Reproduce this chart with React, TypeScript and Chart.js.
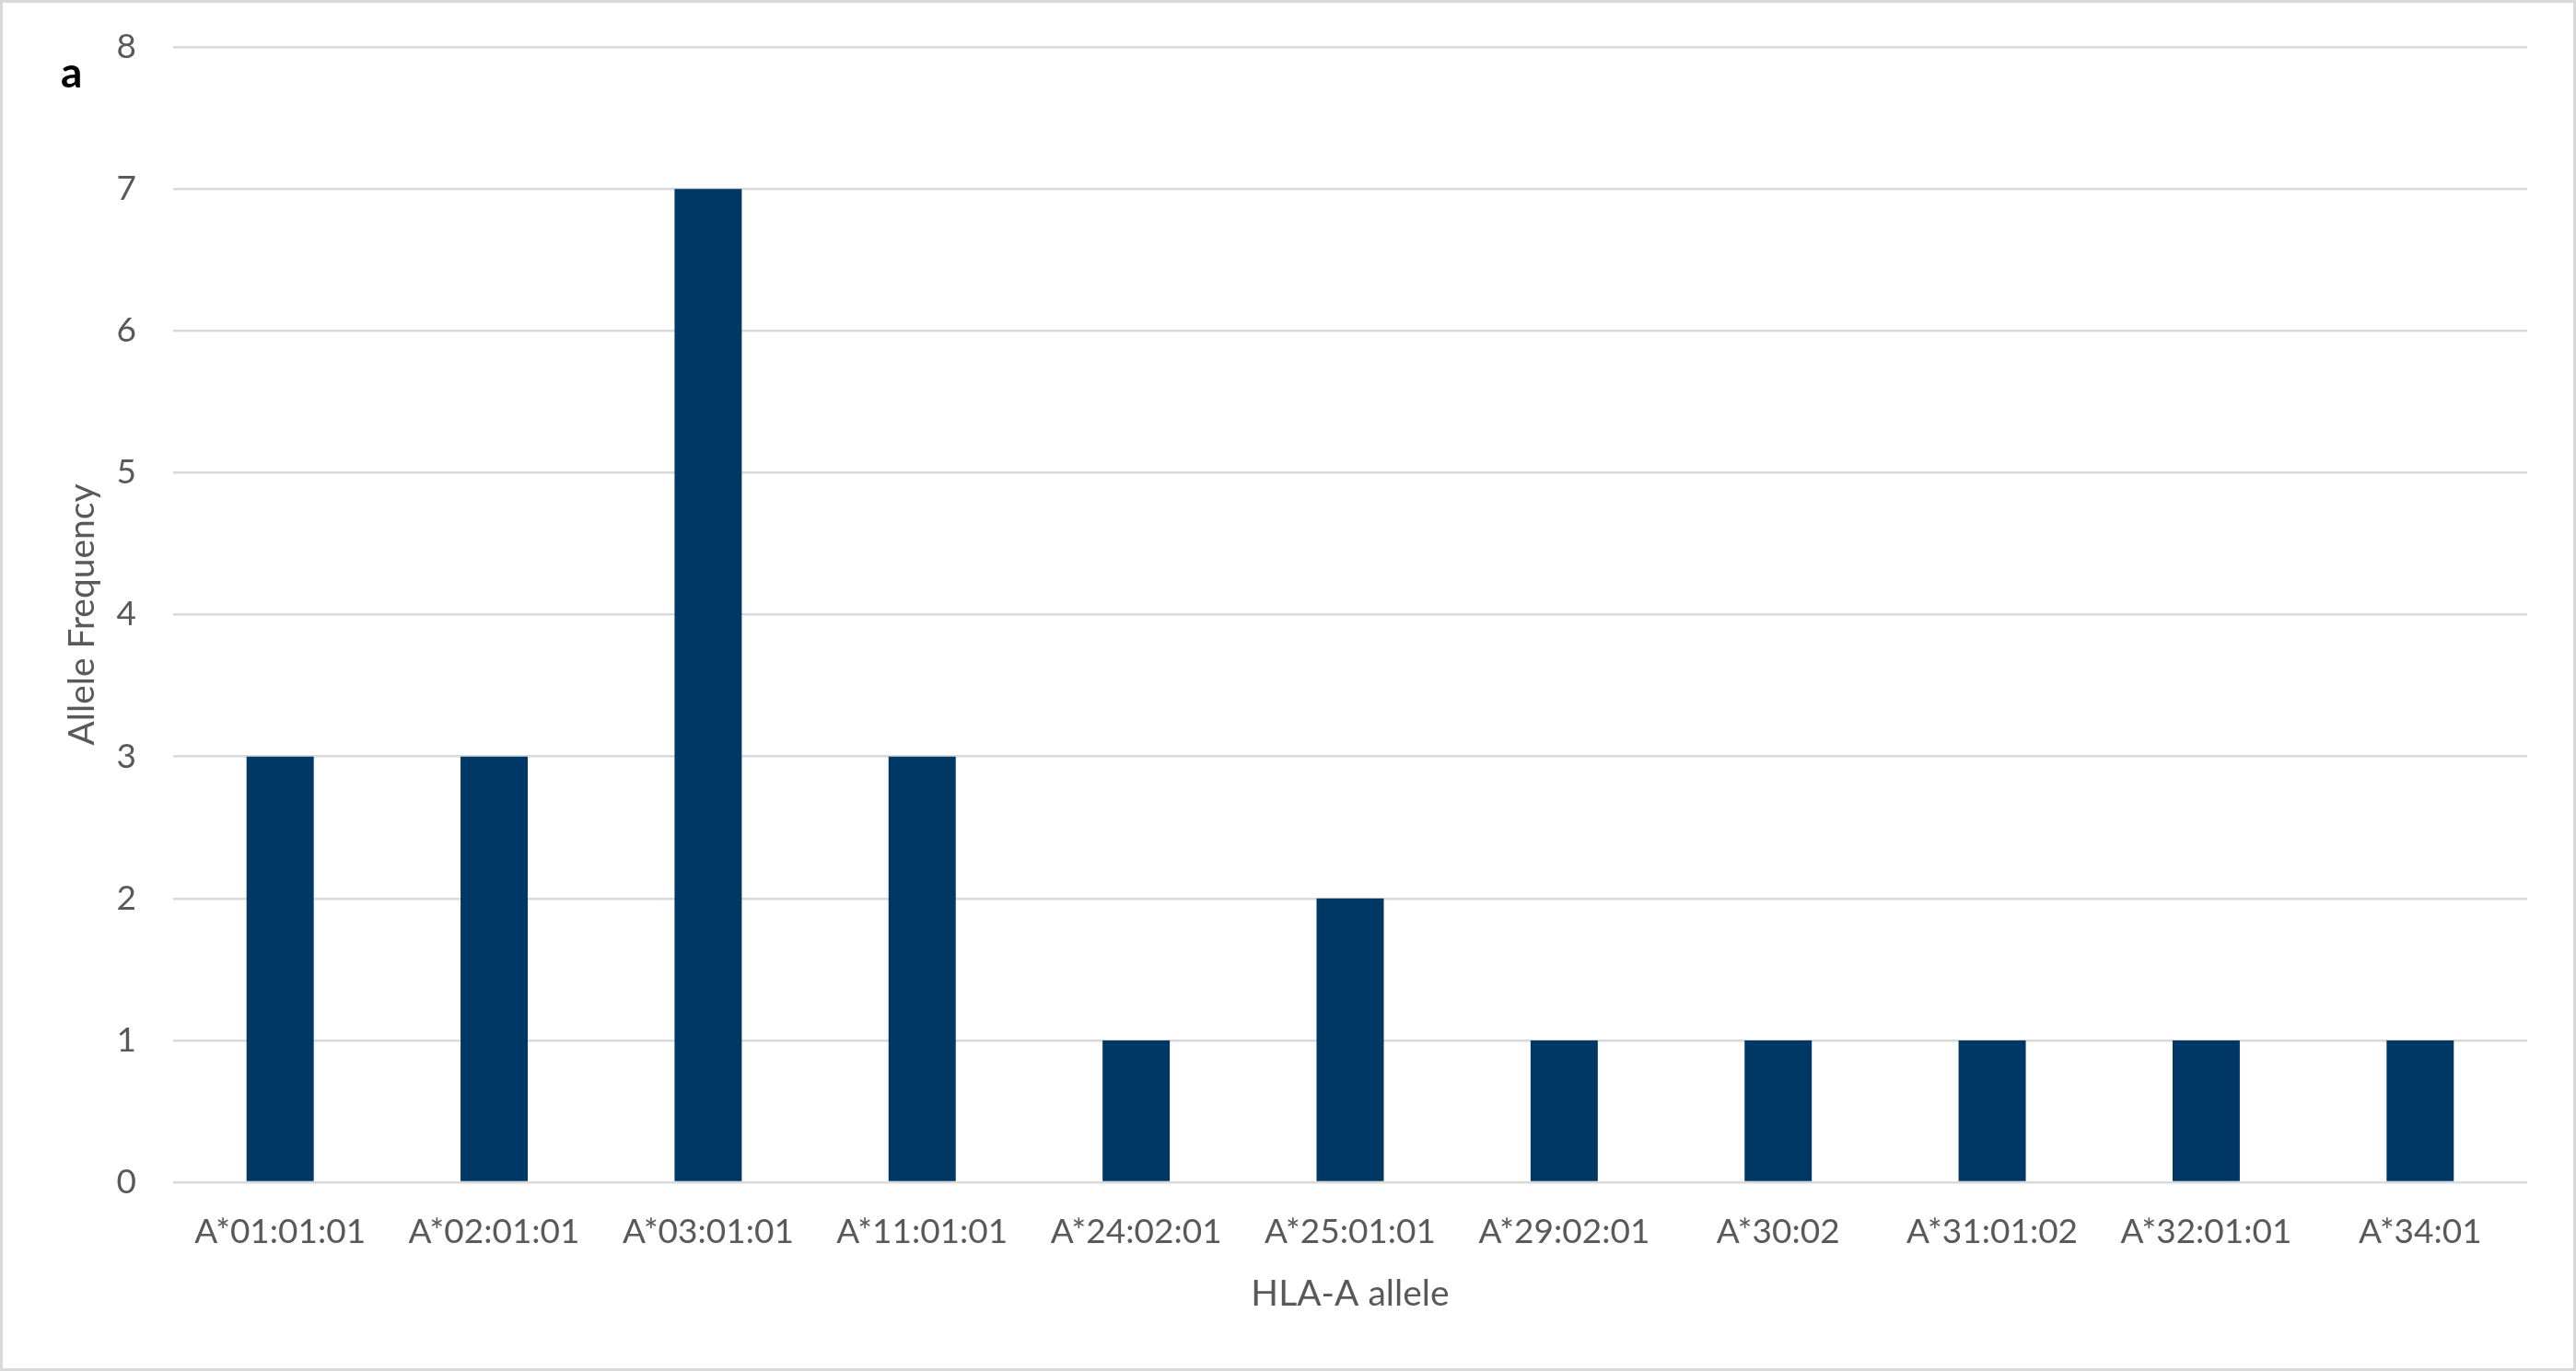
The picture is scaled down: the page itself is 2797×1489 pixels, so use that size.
import React, { useEffect, useRef } from "react";
import { Chart, registerables } from "chart.js";

Chart.register(...registerables);

const categories: string[] = [
  "A*01:01:01",
  "A*02:01:01",
  "A*03:01:01",
  "A*11:01:01",
  "A*24:02:01",
  "A*25:01:01",
  "A*29:02:01",
  "A*30:02",
  "A*31:01:02",
  "A*32:01:01",
  "A*34:01",
];

const alleleFrequency: number[] = [3, 3, 7, 3, 1, 2, 1, 1, 1, 1, 1];

const yMin = 0;
const yMax = 8;
const yStep = 1;

const panelLabel = "a";
const xTitle = "HLA-A allele";
const yTitle = "Allele Frequency";

const W = 2797;
const H = 1489;
const FONT = "Lato, 'Open Sans', 'Noto Sans', sans-serif";
const TEXT = "#595959";
const GRID = "#d9d9d9";
const BAR = "#003865";

const framePlugin = {
  id: "frame",
  beforeDraw(chart: any) {
    const { ctx, width, height } = chart;
    ctx.save();
    ctx.fillStyle = "#ffffff";
    ctx.fillRect(0, 0, width, height);
    ctx.restore();
  },
  afterDraw(chart: any) {
    const { ctx, width, height } = chart;
    ctx.save();
    ctx.strokeStyle = GRID;
    ctx.lineWidth = 3;
    ctx.strokeRect(1.5, 1.5, width - 3, height - 3);
    ctx.fillStyle = "#000000";
    ctx.font = `bold 46px ${FONT}`;
    ctx.textAlign = "left";
    ctx.textBaseline = "alphabetic";
    ctx.fillText(panelLabel, 66, 95);
    ctx.restore();
  },
};

export default function App() {
  const canvasRef = useRef<HTMLCanvasElement | null>(null);

  useEffect(() => {
    document.body.style.margin = "0";
    const canvas = canvasRef.current;
    if (!canvas) return;
    const chart = new Chart(canvas, {
      type: "bar",
      data: {
        labels: categories,
        datasets: [
          {
            label: yTitle,
            data: alleleFrequency,
            backgroundColor: BAR,
            borderWidth: 0,
            categoryPercentage: 1,
            barPercentage: 0.314,
          },
        ],
      },
      plugins: [framePlugin],
      options: {
        animation: false,
        responsive: true,
        maintainAspectRatio: false,
        layout: { padding: { top: 51, right: 53, bottom: 0, left: 0 } },
        plugins: {
          legend: { display: false },
          tooltip: { enabled: false },
        },
        scales: {
          x: {
            grid: { display: false, drawTicks: false },
            border: { display: false },
            ticks: {
              color: TEXT,
              font: { family: FONT, size: 37 },
              padding: 32,
              maxRotation: 0,
              minRotation: 0,
              autoSkip: false,
            },
            title: {
              display: true,
              text: xTitle,
              color: TEXT,
              font: { family: FONT, size: 39 },
              padding: { top: 0, bottom: 60 },
            },
            afterFit: (scale: any) => {
              scale.height = 205;
              scale.paddingLeft = 0;
              scale.paddingRight = 0;
            },
          },
          y: {
            min: yMin,
            max: yMax,
            grid: { color: GRID, lineWidth: 2.5, drawTicks: false },
            border: { display: false },
            ticks: {
              stepSize: yStep,
              color: TEXT,
              font: { family: FONT, size: 37 },
              padding: 40,
            },
            title: {
              display: true,
              text: yTitle,
              color: TEXT,
              font: { family: FONT, size: 39 },
              padding: { top: 66, bottom: 0 },
            },
            afterFit: (scale: any) => {
              scale.width = 188;
              scale.paddingTop = 0;
              scale.paddingBottom = 0;
            },
          },
        },
      },
    });
    return () => chart.destroy();
  }, []);

  return (
    <div style={{ width: W, height: H, position: "relative" }}>
      <canvas ref={canvasRef} />
    </div>
  );
}
